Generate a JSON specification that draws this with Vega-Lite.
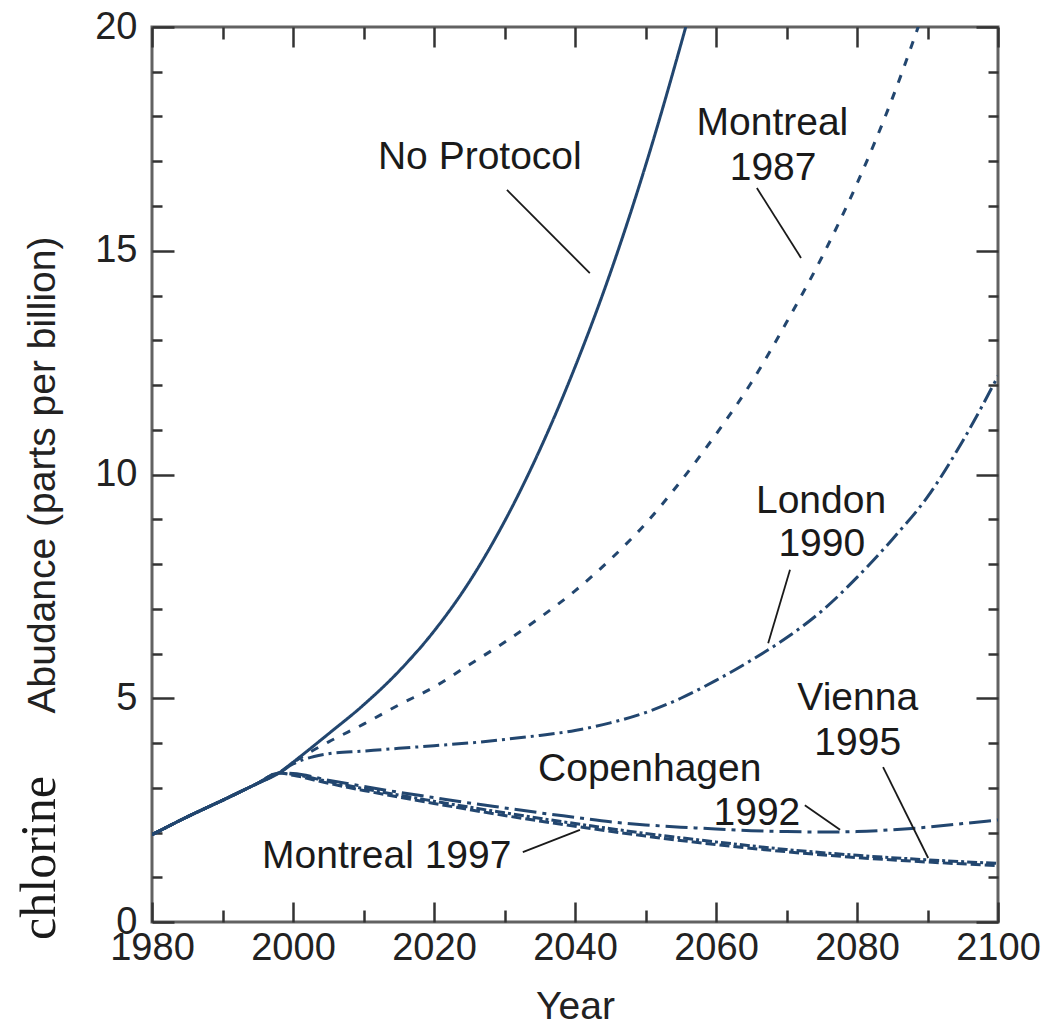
{
  "$schema": "https://vega.github.io/schema/vega-lite/v6.json",
  "width": 846,
  "height": 895,
  "autosize": "none",
  "padding": {"left": 152, "top": 27, "right": 55, "bottom": 102},
  "background": "white",
  "config": {
    "view": {"stroke": "#626262", "strokeWidth": 3},
    "axis": {"grid": false, "domain": false, "labelFont": "Liberation Sans", "titleFont": "Liberation Sans", "labelColor": "#222", "titleColor": "#222", "tickColor": "#333", "tickWidth": 2.5, "labelFontSize": 38, "titleFontSize": 39, "titleFontWeight": "normal", "labelFlush": false, "labelOverlap": false},
    "text": {"font": "Liberation Sans"}
  },
  "datasets": {
    "curves": [
      {"s": "No Protocol", "year": 1980, "v": 1.95}, {"s": "No Protocol", "year": 1985, "v": 2.35}, {"s": "No Protocol", "year": 1990, "v": 2.72}, {"s": "No Protocol", "year": 1995, "v": 3.1}, {"s": "No Protocol", "year": 1998, "v": 3.33},
      {"s": "No Protocol", "year": 2000, "v": 3.57}, {"s": "No Protocol", "year": 2005, "v": 4.2}, {"s": "No Protocol", "year": 2010, "v": 4.85}, {"s": "No Protocol", "year": 2015, "v": 5.6}, {"s": "No Protocol", "year": 2020, "v": 6.5}, {"s": "No Protocol", "year": 2025, "v": 7.6}, {"s": "No Protocol", "year": 2030, "v": 8.95}, {"s": "No Protocol", "year": 2035, "v": 10.55}, {"s": "No Protocol", "year": 2040, "v": 12.4}, {"s": "No Protocol", "year": 2045, "v": 14.5}, {"s": "No Protocol", "year": 2050, "v": 16.9}, {"s": "No Protocol", "year": 2055, "v": 19.6}, {"s": "No Protocol", "year": 2060, "v": 22.5},

      {"s": "Montreal 1987", "year": 1980, "v": 1.95}, {"s": "Montreal 1987", "year": 1985, "v": 2.35}, {"s": "Montreal 1987", "year": 1990, "v": 2.72}, {"s": "Montreal 1987", "year": 1995, "v": 3.1}, {"s": "Montreal 1987", "year": 1998, "v": 3.33},
      {"s": "Montreal 1987", "year": 2000, "v": 3.56}, {"s": "Montreal 1987", "year": 2005, "v": 4.02}, {"s": "Montreal 1987", "year": 2010, "v": 4.42}, {"s": "Montreal 1987", "year": 2015, "v": 4.85}, {"s": "Montreal 1987", "year": 2020, "v": 5.25}, {"s": "Montreal 1987", "year": 2025, "v": 5.75}, {"s": "Montreal 1987", "year": 2030, "v": 6.25}, {"s": "Montreal 1987", "year": 2035, "v": 6.8}, {"s": "Montreal 1987", "year": 2040, "v": 7.4}, {"s": "Montreal 1987", "year": 2045, "v": 8.1}, {"s": "Montreal 1987", "year": 2050, "v": 8.9}, {"s": "Montreal 1987", "year": 2055, "v": 9.85}, {"s": "Montreal 1987", "year": 2060, "v": 10.9}, {"s": "Montreal 1987", "year": 2065, "v": 12.05}, {"s": "Montreal 1987", "year": 2070, "v": 13.4}, {"s": "Montreal 1987", "year": 2075, "v": 14.85}, {"s": "Montreal 1987", "year": 2080, "v": 16.5}, {"s": "Montreal 1987", "year": 2085, "v": 18.4}, {"s": "Montreal 1987", "year": 2090, "v": 20.6},

      {"s": "London 1990", "year": 1980, "v": 1.95}, {"s": "London 1990", "year": 1985, "v": 2.35}, {"s": "London 1990", "year": 1990, "v": 2.72}, {"s": "London 1990", "year": 1995, "v": 3.1}, {"s": "London 1990", "year": 1998, "v": 3.33},
      {"s": "London 1990", "year": 2000, "v": 3.53}, {"s": "London 1990", "year": 2003, "v": 3.7}, {"s": "London 1990", "year": 2005, "v": 3.76}, {"s": "London 1990", "year": 2010, "v": 3.82}, {"s": "London 1990", "year": 2015, "v": 3.88}, {"s": "London 1990", "year": 2020, "v": 3.94}, {"s": "London 1990", "year": 2025, "v": 4.0}, {"s": "London 1990", "year": 2030, "v": 4.08}, {"s": "London 1990", "year": 2035, "v": 4.17}, {"s": "London 1990", "year": 2040, "v": 4.28}, {"s": "London 1990", "year": 2045, "v": 4.45}, {"s": "London 1990", "year": 2050, "v": 4.68}, {"s": "London 1990", "year": 2055, "v": 5.0}, {"s": "London 1990", "year": 2060, "v": 5.4}, {"s": "London 1990", "year": 2065, "v": 5.85}, {"s": "London 1990", "year": 2070, "v": 6.35}, {"s": "London 1990", "year": 2075, "v": 6.95}, {"s": "London 1990", "year": 2080, "v": 7.7}, {"s": "London 1990", "year": 2085, "v": 8.55}, {"s": "London 1990", "year": 2090, "v": 9.5}, {"s": "London 1990", "year": 2095, "v": 10.75}, {"s": "London 1990", "year": 2100, "v": 12.2},

      {"s": "Copenhagen 1992", "year": 1980, "v": 1.95}, {"s": "Copenhagen 1992", "year": 1985, "v": 2.35}, {"s": "Copenhagen 1992", "year": 1990, "v": 2.72}, {"s": "Copenhagen 1992", "year": 1995, "v": 3.1}, {"s": "Copenhagen 1992", "year": 1998, "v": 3.33},
      {"s": "Copenhagen 1992", "year": 2000, "v": 3.32}, {"s": "Copenhagen 1992", "year": 2005, "v": 3.17}, {"s": "Copenhagen 1992", "year": 2010, "v": 3.03}, {"s": "Copenhagen 1992", "year": 2015, "v": 2.9}, {"s": "Copenhagen 1992", "year": 2020, "v": 2.78}, {"s": "Copenhagen 1992", "year": 2025, "v": 2.66}, {"s": "Copenhagen 1992", "year": 2030, "v": 2.55}, {"s": "Copenhagen 1992", "year": 2035, "v": 2.44}, {"s": "Copenhagen 1992", "year": 2040, "v": 2.34}, {"s": "Copenhagen 1992", "year": 2045, "v": 2.24}, {"s": "Copenhagen 1992", "year": 2050, "v": 2.17}, {"s": "Copenhagen 1992", "year": 2055, "v": 2.12}, {"s": "Copenhagen 1992", "year": 2060, "v": 2.08}, {"s": "Copenhagen 1992", "year": 2065, "v": 2.04}, {"s": "Copenhagen 1992", "year": 2070, "v": 2.02}, {"s": "Copenhagen 1992", "year": 2075, "v": 2.01}, {"s": "Copenhagen 1992", "year": 2080, "v": 2.02}, {"s": "Copenhagen 1992", "year": 2085, "v": 2.06}, {"s": "Copenhagen 1992", "year": 2090, "v": 2.12}, {"s": "Copenhagen 1992", "year": 2095, "v": 2.2}, {"s": "Copenhagen 1992", "year": 2100, "v": 2.28},

      {"s": "Vienna 1995", "year": 1980, "v": 1.95}, {"s": "Vienna 1995", "year": 1985, "v": 2.35}, {"s": "Vienna 1995", "year": 1990, "v": 2.72}, {"s": "Vienna 1995", "year": 1995, "v": 3.1}, {"s": "Vienna 1995", "year": 1998, "v": 3.33},
      {"s": "Vienna 1995", "year": 2000, "v": 3.3}, {"s": "Vienna 1995", "year": 2005, "v": 3.14}, {"s": "Vienna 1995", "year": 2010, "v": 2.98}, {"s": "Vienna 1995", "year": 2020, "v": 2.7}, {"s": "Vienna 1995", "year": 2030, "v": 2.44}, {"s": "Vienna 1995", "year": 2040, "v": 2.2}, {"s": "Vienna 1995", "year": 2050, "v": 1.98}, {"s": "Vienna 1995", "year": 2060, "v": 1.79}, {"s": "Vienna 1995", "year": 2070, "v": 1.62}, {"s": "Vienna 1995", "year": 2080, "v": 1.49}, {"s": "Vienna 1995", "year": 2090, "v": 1.39}, {"s": "Vienna 1995", "year": 2100, "v": 1.31},

      {"s": "Montreal 1997", "year": 1980, "v": 1.95}, {"s": "Montreal 1997", "year": 1985, "v": 2.35}, {"s": "Montreal 1997", "year": 1990, "v": 2.72}, {"s": "Montreal 1997", "year": 1995, "v": 3.1}, {"s": "Montreal 1997", "year": 1998, "v": 3.33},
      {"s": "Montreal 1997", "year": 2000, "v": 3.28}, {"s": "Montreal 1997", "year": 2005, "v": 3.1}, {"s": "Montreal 1997", "year": 2010, "v": 2.94}, {"s": "Montreal 1997", "year": 2020, "v": 2.65}, {"s": "Montreal 1997", "year": 2030, "v": 2.38}, {"s": "Montreal 1997", "year": 2040, "v": 2.14}, {"s": "Montreal 1997", "year": 2050, "v": 1.92}, {"s": "Montreal 1997", "year": 2060, "v": 1.73}, {"s": "Montreal 1997", "year": 2070, "v": 1.57}, {"s": "Montreal 1997", "year": 2080, "v": 1.44}, {"s": "Montreal 1997", "year": 2090, "v": 1.34}, {"s": "Montreal 1997", "year": 2100, "v": 1.26}
    ],
    "leaders": [
      {"s": "No Protocol", "x1": 2030.35, "y1": 16.36, "x2": 2042.1, "y2": 14.5},
      {"s": "Montreal 1987", "x1": 2065.8, "y1": 16.4, "x2": 2072.06, "y2": 14.84},
      {"s": "London 1990", "x1": 2070.5, "y1": 7.87, "x2": 2067.4, "y2": 6.23},
      {"s": "Copenhagen 1992", "x1": 2072.6, "y1": 2.61, "x2": 2077.6, "y2": 2.06},
      {"s": "Vienna 1995", "x1": 2083.7, "y1": 3.46, "x2": 2090.1, "y2": 1.43},
      {"s": "Montreal 1997", "x1": 2032.6, "y1": 1.56, "x2": 2040.7, "y2": 2.06}
    ],
    "labels": [
      {"t": "No Protocol", "x": 2026.5, "y": 17.09},
      {"t": "Montreal", "x": 2068.0, "y": 17.85},
      {"t": "1987", "x": 2068.1, "y": 16.86},
      {"t": "London", "x": 2074.9, "y": 9.4},
      {"t": "1990", "x": 2075.0, "y": 8.44},
      {"t": "Vienna", "x": 2080.1, "y": 5.0},
      {"t": "1995", "x": 2080.1, "y": 3.99},
      {"t": "Copenhagen", "x": 2050.6, "y": 3.41},
      {"t": "1992", "x": 2065.8, "y": 2.43},
      {"t": "Montreal 1997", "x": 2013.3, "y": 1.47}
    ],
    "side": [
      {"t": "chlorine", "x": 1966.24, "y": 1.43}
    ]
  },
  "resolve": {"axis": {"x": "independent", "y": "independent"}},
  "layer": [
    {
      "data": {"name": "curves"},
      "mark": {"type": "line", "clip": true, "strokeWidth": 3, "color": "#22466f", "interpolate": "monotone"},
      "encoding": {
        "x": {"field": "year", "type": "quantitative", "scale": {"domain": [1980, 2100], "nice": false, "zero": false},
          "axis": {"orient": "bottom", "values": [1980, 2000, 2020, 2040, 2060, 2080, 2100], "ticks": false, "labelPadding": 7, "title": "Year", "titlePadding": 20, "format": "d"}},
        "y": {"field": "v", "type": "quantitative", "scale": {"domain": [0, 20], "nice": false, "zero": false},
          "axis": {"orient": "left", "values": [0, 5, 10, 15, 20], "ticks": false, "labelPadding": 15, "title": "Abudance (parts per billion)", "titlePadding": 32}},
        "detail": {"field": "s"},
        "strokeDash": {"field": "s", "type": "nominal", "legend": null,
          "scale": {"domain": ["No Protocol", "Montreal 1987", "London 1990", "Copenhagen 1992", "Vienna 1995", "Montreal 1997"],
                    "range": [[1, 0], [8, 10], [16, 5, 3, 5], [22, 6, 4, 6], [10, 3, 3, 3], [10, 4]]}},
        "order": {"field": "year", "type": "quantitative"}
      }
    },
    {
      "data": {"name": "leaders"},
      "mark": {"type": "rule", "color": "#1a1a1a", "strokeWidth": 1.8},
      "encoding": {
        "x": {"field": "x1", "type": "quantitative", "scale": {"domain": [1980, 2100], "nice": false, "zero": false},
          "axis": {"orient": "bottom", "values": [1980, 1990, 2000, 2010, 2020, 2030, 2040, 2050, 2060, 2070, 2080, 2090, 2100], "labels": false, "title": null,
            "tickSize": {"condition": {"test": "datum.value % 20 === 0", "value": -20}, "value": -12}}},
        "x2": {"field": "x2"},
        "y": {"field": "y1", "type": "quantitative", "scale": {"domain": [0, 20], "nice": false, "zero": false},
          "axis": {"orient": "left", "values": [0, 1, 2, 3, 4, 5, 6, 7, 8, 9, 10, 11, 12, 13, 14, 15, 16, 17, 18, 19, 20], "labels": false, "title": null,
            "tickSize": {"condition": {"test": "datum.value % 5 === 0", "value": -22}, "value": -10}}},
        "y2": {"field": "y2"}
      }
    },
    {
      "data": {"name": "labels"},
      "mark": {"type": "text", "fontSize": 39, "color": "#1a1a1a", "align": "center", "baseline": "middle"},
      "encoding": {
        "x": {"field": "x", "type": "quantitative", "scale": {"domain": [1980, 2100], "nice": false, "zero": false},
          "axis": {"orient": "top", "values": [1980, 1990, 2000, 2010, 2020, 2030, 2040, 2050, 2060, 2070, 2080, 2090, 2100], "labels": false, "title": null,
            "tickSize": {"condition": {"test": "datum.value % 20 === 0", "value": -20}, "value": -12}}},
        "y": {"field": "y", "type": "quantitative", "scale": {"domain": [0, 20], "nice": false, "zero": false},
          "axis": {"orient": "right", "values": [0, 1, 2, 3, 4, 5, 6, 7, 8, 9, 10, 11, 12, 13, 14, 15, 16, 17, 18, 19, 20], "labels": false, "title": null,
            "tickSize": {"condition": {"test": "datum.value % 5 === 0", "value": -22}, "value": -10}}},
        "text": {"field": "t"}
      }
    },
    {
      "data": {"name": "side"},
      "mark": {"type": "text", "font": "Liberation Serif", "fontSize": 50, "color": "#1a1a1a", "angle": 270, "align": "center", "baseline": "alphabetic"},
      "encoding": {
        "x": {"field": "x", "type": "quantitative", "scale": {"domain": [1980, 2100], "nice": false, "zero": false}, "axis": null},
        "y": {"field": "y", "type": "quantitative", "scale": {"domain": [0, 20], "nice": false, "zero": false}, "axis": null},
        "text": {"field": "t"}
      }
    }
  ]
}
